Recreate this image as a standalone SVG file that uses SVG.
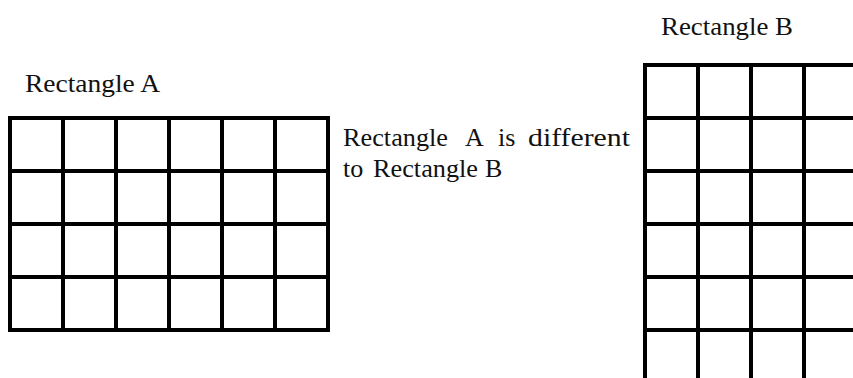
<svg xmlns="http://www.w3.org/2000/svg" width="853" height="378" viewBox="0 0 853 378">
<style>
.grid{fill:none;stroke:#000;stroke-width:4;stroke-linecap:square}
.t{font-family:'Liberation Serif','DejaVu Serif','Noto Serif',Tinos,FreeSerif,'Times New Roman',serif;font-size:26px;fill:#111}
</style>
<rect width="853" height="378" fill="#fff"/>
<g id="rectA">
<path class="grid" d="M10 118H328V330H10Z M63 118V330 M116 118V330 M169 118V330 M222 118V330 M275 118V330 M10 171H328 M10 224H328 M10 277H328"/>
<text class="t" x="25" y="92" textLength="135" lengthAdjust="spacingAndGlyphs">Rectangle A</text>
</g>
<g id="rectB">
<path class="grid" d="M645 65H857V383H645Z M698 65V383 M751 65V383 M804 65V383 M645 118H857 M645 171H857 M645 224H857 M645 277H857 M645 330H857"/>
<text class="t" x="661" y="35" textLength="132" lengthAdjust="spacingAndGlyphs">Rectangle B</text>
</g>
<g id="note">
<text class="t" x="343" y="146" textLength="105" lengthAdjust="spacingAndGlyphs">Rectangle</text>
<text class="t" x="465" y="146">A</text>
<text class="t" x="498" y="146">is</text>
<text class="t" x="528" y="146" textLength="102" lengthAdjust="spacingAndGlyphs">different</text>
<text class="t" x="343" y="177">to</text>
<text class="t" x="373" y="177" textLength="105" lengthAdjust="spacingAndGlyphs">Rectangle</text>
<text class="t" x="485" y="177">B</text>
</g>
</svg>
